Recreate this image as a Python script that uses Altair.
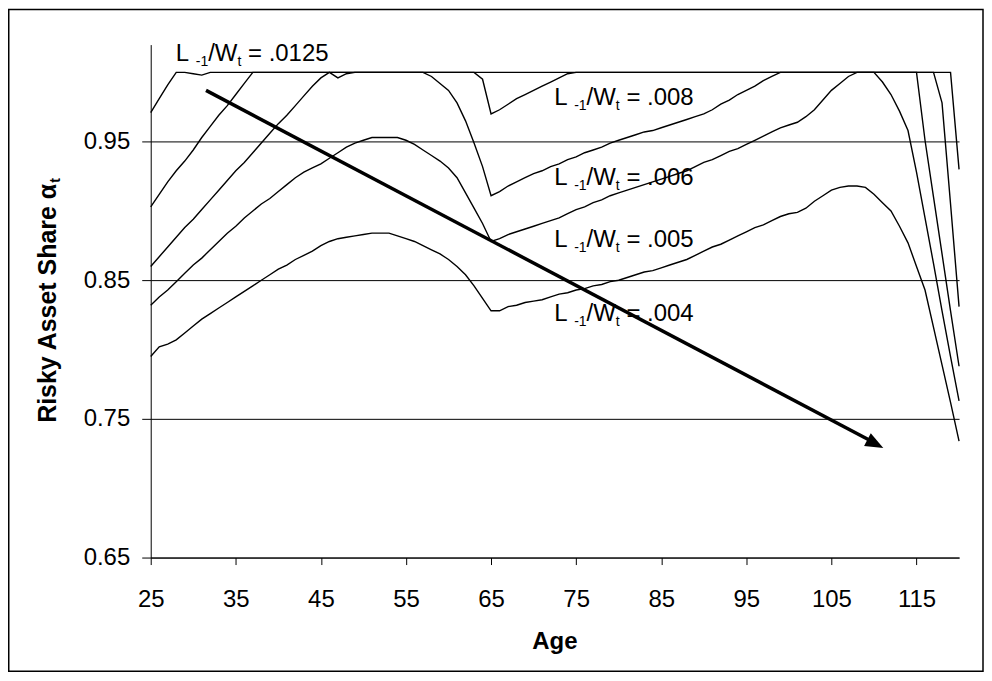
import altair as alt
import pandas as pd

FONT = "Liberation Sans"

# ---------------- data ----------------
series_names = [".0125", ".008", ".006", ".005", ".004"]

c1_age = [25, 26, 27, 28, 29, 30, 31, 32, 119, 120]
c1_val = [0.971, 0.981, 0.991, 1.0, 1.0, 0.999, 0.998, 1.0, 1.0, 0.930]

c2_age = [25, 26, 27, 28, 29, 30, 31, 32, 33, 34, 35, 36, 37,
          63, 64, 65, 66, 67, 68, 69, 70, 71, 72, 73, 74, 75,
          117, 118, 119, 120]
c2_val = [0.903, 0.912, 0.921, 0.929, 0.936, 0.944, 0.953, 0.961, 0.969, 0.976, 0.984, 0.992, 1.0,
          1.0, 0.995, 0.970, 0.973, 0.977, 0.981, 0.984, 0.987, 0.990, 0.993, 0.996, 0.999, 1.0,
          1.0, 0.978, 0.905, 0.831]

c3_age = [25, 26, 27, 28, 29, 30, 31, 32, 33, 34, 35, 36, 37, 38, 39, 40, 41, 42, 43, 44,
          45, 46, 47, 48, 49,
          57, 58, 59, 60, 61, 62, 63, 64, 65, 66, 67, 68, 69, 70, 71, 72, 73, 74, 75, 76,
          77, 78, 79, 80, 81, 82, 83, 84, 85, 86, 87, 88, 89, 90, 91, 92, 93, 94, 95, 96,
          97, 98, 99,
          115, 116, 117, 118, 119, 120]
c3_val = [0.860, 0.867, 0.874, 0.881, 0.888, 0.894, 0.901, 0.908, 0.915, 0.922, 0.929, 0.935,
          0.942, 0.949, 0.956, 0.963, 0.969, 0.976, 0.983, 0.990,
          0.996, 1.0, 0.996, 0.999, 1.0,
          1.0, 0.997, 0.992, 0.987, 0.978, 0.965, 0.949, 0.932, 0.911, 0.914, 0.918, 0.921,
          0.924, 0.927, 0.929, 0.932, 0.934, 0.937, 0.939, 0.942,
          0.944, 0.946, 0.949, 0.951, 0.953, 0.955, 0.957, 0.958, 0.960, 0.962, 0.964, 0.966,
          0.968, 0.970, 0.973, 0.977, 0.980, 0.984, 0.987, 0.990,
          0.994, 0.997, 1.0,
          1.0, 0.951, 0.910, 0.869, 0.828, 0.788]

c4_age = list(range(25, 121))
c4_val = [0.832, 0.838, 0.843, 0.849, 0.855, 0.861, 0.866, 0.872, 0.878, 0.884,
          0.889, 0.895, 0.900, 0.905, 0.909, 0.914, 0.919, 0.924, 0.928, 0.931,
          0.934, 0.938, 0.942, 0.946, 0.949, 0.951, 0.953, 0.953, 0.953, 0.953,
          0.951, 0.948, 0.944, 0.940, 0.936, 0.931, 0.924, 0.913, 0.902, 0.891,
          0.878, 0.880, 0.883, 0.885, 0.887, 0.889, 0.891, 0.893, 0.895, 0.898,
          0.901, 0.903, 0.906, 0.908, 0.911, 0.913, 0.915, 0.917, 0.919, 0.921,
          0.923, 0.925, 0.927, 0.929, 0.932, 0.935, 0.937, 0.940, 0.943, 0.945,
          0.948, 0.951, 0.954, 0.957, 0.960, 0.962, 0.964, 0.968, 0.973, 0.980,
          0.987, 0.992, 0.997, 1.0, 1.0, 1.0, 0.993, 0.984, 0.972, 0.958,
          0.928, 0.895, 0.862, 0.828, 0.795, 0.763]

c5_age = list(range(25, 121))
c5_val = [0.795, 0.802, 0.804, 0.807, 0.812, 0.817, 0.822, 0.826, 0.830, 0.834,
          0.838, 0.842, 0.846, 0.850, 0.854, 0.858, 0.861, 0.865, 0.868, 0.871,
          0.875, 0.878, 0.880, 0.881, 0.882, 0.883, 0.884, 0.884, 0.884, 0.882,
          0.880, 0.878, 0.875, 0.872, 0.869, 0.865, 0.860, 0.854, 0.846, 0.837,
          0.828, 0.828, 0.831, 0.832, 0.834, 0.835, 0.836, 0.838, 0.840, 0.841,
          0.843, 0.844, 0.846, 0.847, 0.849, 0.850, 0.852, 0.854, 0.856, 0.857,
          0.859, 0.861, 0.863, 0.865, 0.868, 0.871, 0.874, 0.876, 0.879, 0.882,
          0.885, 0.888, 0.890, 0.893, 0.896, 0.898, 0.899, 0.902, 0.907, 0.911,
          0.915, 0.917, 0.918, 0.918, 0.917, 0.912, 0.906, 0.900, 0.889, 0.877,
          0.860, 0.843, 0.816, 0.789, 0.762, 0.734]

# arrow (start, end of shaft, tip)
arrow_age = [31.5, 110.0]
arrow_val = [0.987, 0.733]
arrow_tip_age = [111.1]
arrow_tip_val = [0.729]

# labels "L-1/Wt = value"
label_value = [".0125", ".008", ".006", ".005", ".004"]
label_age = [27.95, 72.42, 72.42, 72.42, 72.42]
label_share = [1.0081, 0.9767, 0.9186, 0.8738, 0.8207]

x_ticks = [25, 35, 45, 55, 65, 75, 85, 95, 105, 115]
y_ticks = [0.65, 0.75, 0.85, 0.95]

# ---------------- build tables ----------------
rows = []
for name, ages, vals in zip(series_names,
                            [c1_age, c2_age, c3_age, c4_age, c5_age],
                            [c1_val, c2_val, c3_val, c4_val, c5_val]):
    for a, v in zip(ages, vals):
        rows.append({"series": name, "age": a, "share": v})
df = pd.DataFrame(rows)

arrow_df = pd.DataFrame({"age": arrow_age, "share": arrow_val})
tip_df = pd.DataFrame({"age": arrow_tip_age, "share": arrow_tip_val})
lab_df = pd.DataFrame({"age": label_age, "share": label_share,
                       "rest": ["= " + v for v in label_value]})

W, H = 810, 514
x_scale = alt.Scale(domain=[25, 120], nice=False, zero=False)
y_scale = alt.Scale(domain=[0.65, 1.02], nice=False, zero=False)

X = lambda: alt.X("age:Q", scale=x_scale, title=None)
Y = lambda: alt.Y("share:Q", scale=y_scale, title=None)

lines = alt.Chart(df).mark_line(color="black", strokeWidth=1.4).encode(
    x=alt.X("age:Q", scale=x_scale, title=None,
            axis=alt.Axis(values=x_ticks, format="d", grid=False, tickSize=7,
                          labelPadding=23, labelFlush=False, labelOverlap=False,
                          labelFont=FONT, labelFontSize=24, labelColor="black",
                          tickColor="black", domainColor="black", domainWidth=1,
                          tickWidth=1)),
    y=alt.Y("share:Q", scale=y_scale, title=None,
            axis=alt.Axis(values=y_ticks, format=".2f", grid=True, gridColor="black",
                          gridWidth=1, gridOpacity=1, tickSize=9, labelPadding=12,
                          labelFlush=False, labelOverlap=False,
                          labelFont=FONT, labelFontSize=24, labelColor="black",
                          tickColor="black", domainColor="black", domainWidth=1,
                          tickWidth=1)),
    detail="series:N",
)

arrow_line = alt.Chart(arrow_df).mark_line(
    color="black", strokeWidth=3.5, strokeCap="butt").encode(x=X(), y=Y())

arrow_head = alt.Chart(tip_df).mark_point(
    shape="M0,0L0.4,1L-0.4,1Z", size=1296, filled=True, color="black",
    opacity=1, strokeWidth=0, angle=117.8).encode(x=X(), y=Y())

# label pieces (Arial advance widths)
M, S, SUB_DY = 24, 14, 5
adv = {"L": 0.556, " ": 0.278, "-": 0.333, "1": 0.556, "/": 0.278, "W": 0.944, "t": 0.278}
dx_sub1 = (adv["L"] + adv[" "]) * M
dx_slash = dx_sub1 + (adv["-"] + adv["1"]) * S
dx_t = dx_slash + (adv["/"] + adv["W"]) * M
dx_rest = dx_t + adv["t"] * S + adv[" "] * M


def piece(text=None, dx=0, dy=0, size=M, field=None):
    mk = dict(align="left", baseline="alphabetic", font=FONT, fontSize=size,
              dx=dx, dy=dy, color="black")
    if text is not None:
        mk["text"] = text
    ch = alt.Chart(lab_df).mark_text(**mk)
    enc = dict(x=X(), y=Y())
    if field is not None:
        enc["text"] = alt.Text(field + ":N")
    return ch.encode(**enc)


labels = [
    piece("L", 0),
    piece("-1", dx_sub1, SUB_DY, S),
    piece("/W", dx_slash),
    piece("t", dx_t, SUB_DY, S),
    piece(None, dx_rest, field="rest"),
]

one = pd.DataFrame({"k": [0]})
TS = 25
title_main = "Risky Asset Share α"
title_w = (9.004 + 0.62) * TS
ytitle = alt.Chart(one).mark_text(
    text=title_main, angle=270, align="left", baseline="alphabetic", font=FONT,
    fontSize=TS, fontWeight="bold", color="black").encode(
    x=alt.value(-95), y=alt.value(379))
ytitle_sub = alt.Chart(one).mark_text(
    text="t", angle=270, align="left", baseline="alphabetic", font=FONT,
    fontSize=14, fontWeight="bold", color="black", dx=title_w, dy=4).encode(
    x=alt.value(-95), y=alt.value(379))

xtitle = alt.Chart(one).mark_text(
    text="Age", align="center", baseline="alphabetic", font=FONT, fontSize=24,
    fontWeight="bold", color="black").encode(x=alt.value(405), y=alt.value(606))

frame = alt.Chart(one).mark_rect(
    fillOpacity=0, stroke="black", strokeWidth=1.5).encode(
    x=alt.value(-142.25), x2=alt.value(834), y=alt.value(-35.25), y2=alt.value(628))

chart = alt.layer(
    lines, arrow_line, arrow_head, *labels, ytitle, ytitle_sub, xtitle, frame
).properties(
    width=W, height=H,
    padding={"left": 143, "top": 36, "right": 25, "bottom": 115},
    autosize=alt.AutoSizeParams(type="none"),
).configure(font=FONT, background="white").configure_view(stroke=None)

chart.save("out.html", embed_options={"renderer": "svg", "actions": False})
